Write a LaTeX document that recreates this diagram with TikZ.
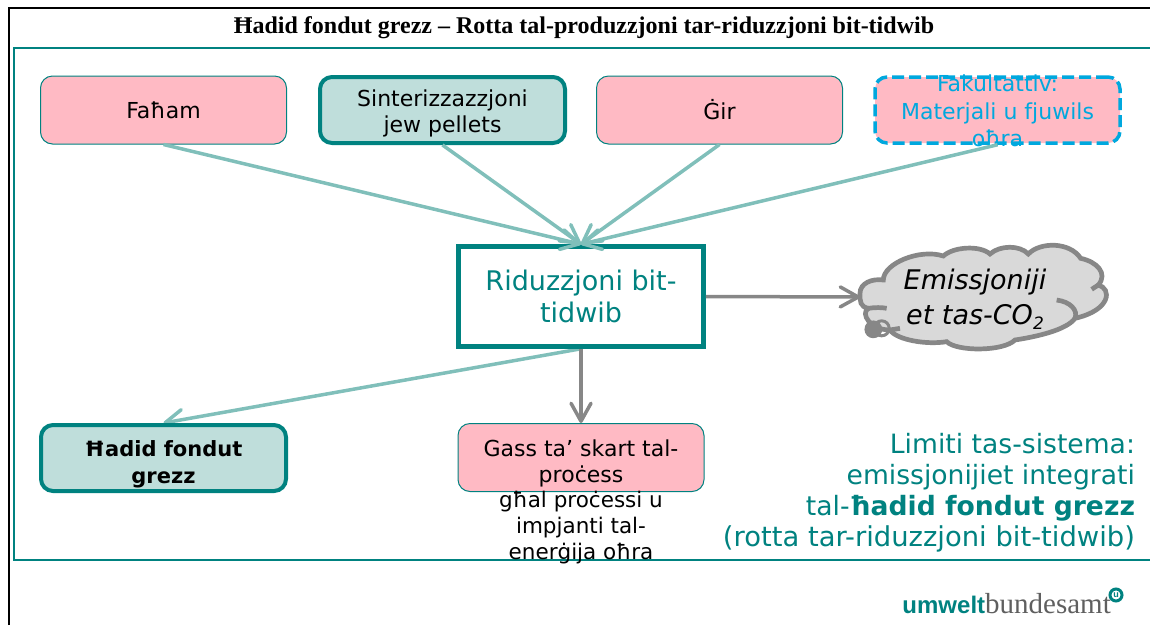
\documentclass[tikz,border=0pt]{standalone}
\usepackage{fontspec}
\setmainfont{DejaVu Sans}
\newfontfamily\titlefont{Liberation Serif}
\newfontfamily\logofont{Liberation Sans}
\newfontfamily\logoserif{Liberation Serif}
\usetikzlibrary{arrows.meta, backgrounds}

\definecolor{umweltteal}{rgb}{0,0.51,0.5}
\definecolor{lightteal}{rgb}{0.75,0.87,0.86}
\definecolor{arrowteal}{rgb}{0.5,0.75,0.73}
\definecolor{boxpink}{rgb}{1,0.73,0.77}
\definecolor{fakblue}{rgb}{0,0.66,0.87}
\definecolor{flowgray}{rgb}{0.53,0.53,0.53}
\definecolor{cloudgray}{rgb}{0.85,0.85,0.85}

\tikzset{
    inbox/.style={draw=umweltteal, line width=1pt, fill=boxpink, rounded corners=12pt, minimum width=246pt, minimum height=68pt, inner sep=0pt, align=center, font=\fontsize{22}{26}\selectfont},
    tealbox/.style={inbox, line width=4pt, fill=lightteal, minimum width=245pt, minimum height=66pt},
    barb/.style={-{Straight Barb[length=18pt, width=20pt, round]}},
    tealflow/.style={barb, draw=arrowteal, line width=3.5pt},
    grayflow/.style={barb, draw=flowgray, line width=3.5pt}
}

\begin{document}
\begin{tikzpicture}[x=1pt, y=-1pt]
    \useasboundingbox (0,0) rectangle (1150,625);

    \draw[black, line width=2pt] (9,625) -- (9,8) -- (1150,8);
    \draw[umweltteal, line width=2pt] (1150,48) -- (14,48) -- (14,560) -- (1150,560);
    \node[font=\titlefont\bfseries\fontsize{24}{28}\selectfont] (title) at (584,28) {Ħadid fondut grezz – Rotta tal-produzzjoni tar-riduzzjoni bit-tidwib};

    \node[inbox] (faham) at (163.5,110) {Faħam};
    \node[tealbox] (sinter) at (442.5,110) {\rule{0pt}{23pt}Sinterizzazzjoni\\jew pellets};
    \node[inbox] (gir) at (719.5,110) {Ġir};
    \node[inbox, draw=fakblue, line width=3.5pt, dash pattern=on 12pt off 5pt, minimum height=66pt, minimum width=245pt] (fak) at (997.5,110) {};
    \node[font=\fontsize{22}{27.5}\selectfont, text=fakblue, align=center] (faktext) at (997.5,111) {Fakultattiv:\\Materjali u fjuwils\\oħra};

    \node[draw=umweltteal, line width=4.5pt, minimum width=245pt, minimum height=100pt, inner sep=0pt, align=center, text=umweltteal, font=\fontsize{27}{32}\selectfont] (rid) at (581,296.5) {Riduzzjoni bit-\\tidwib};

    \begin{scope}[shift={(840,230)}, x=0.3333pt, y=-0.3333pt, flowgray, line width=4.7pt]
        \filldraw[fill=cloudgray] (60,190) .. controls (60,160) and (95,145) .. (130,150)
            .. controls (130,100) and (240,55) .. (310,78)
            .. controls (340,50) and (420,45) .. (450,72)
            .. controls (480,45) and (540,45) .. (565,72)
            .. controls (600,35) and (690,35) .. (722,85)
            .. controls (770,95) and (805,130) .. (775,165)
            .. controls (815,175) and (815,240) .. (705,265)
            .. controls (680,300) and (590,320) .. (525,330)
            .. controls (490,365) and (350,365) .. (320,335)
            .. controls (260,345) and (170,330) .. (150,300)
            .. controls (90,300) and (60,250) .. (85,235)
            .. controls (60,230) and (60,215) .. (60,190) -- cycle;
        \draw (650,210) .. controls (690,215) and (715,240) .. (705,265);
        \draw (755,178) -- (775,165);
        \draw (85,235) .. controls (105,232) and (125,232) .. (140,235);
        \draw (150,300) -- (180,295);
        \filldraw (100,298) circle (6.5pt);
        \draw[line width=3pt] (125,295) circle (7.5pt);
    \end{scope}
    \coordinate (emis) at (860,297);
    \node[font=\itshape\fontsize{27}{35}\selectfont, align=center] (emistext) at (975,299) {Emissjoniji\\et tas-CO\raisebox{-5pt}{\fontsize{17}{17}\selectfont 2}};

    \draw[tealflow] (faham.south) -- (rid.north);
    \draw[tealflow] (sinter.south) -- (rid.north);
    \draw[tealflow] (gir.south) -- (rid.north);
    \draw[tealflow] (fak.south) -- (rid.north);
    \draw[grayflow] (rid.east) -- (emis);

    \node[tealbox, font=\bfseries\fontsize{21}{27}\selectfont] (hadid) at (163.5,458) {\rule{0pt}{28pt}Ħadid fondut\\grezz};
    \node[inbox] (gass) at (581,457.5) {\rule{0pt}{29pt}Gass ta’ skart tal-\\proċess};
    \node[font=\fontsize{21.5}{26}\selectfont, align=center] (gasstext) at (581,528) {għal proċessi u\\impjanti tal-\\enerġija oħra};

    \begin{scope}[on background layer]
        \draw[tealflow] (rid.south) -- (hadid.north);
    \end{scope}
    \draw[grayflow] (rid.south) -- (gass.north);

    \node[anchor=east, align=right, text=umweltteal, font=\fontsize{26.6}{31}\selectfont] (limit) at (1138.5,493) {Limiti tas-sistema:\\emissjonijiet integrati\\tal-\textbf{ħadid fondut grezz}\\{\fontsize{27.4}{31}\selectfont (rotta tar-riduzzjoni bit-tidwib)}};

    \node[anchor=base east, inner sep=0pt] (logo) at (1111,613) {\textcolor{umweltteal}{\logofont\bfseries\fontsize{24}{27}\selectfont umwelt}\textcolor{flowgray!70!black}{\logoserif\fontsize{29}{27}\selectfont bundesamt}};
    \node[circle, draw=umweltteal, line width=3pt, fill=white, minimum size=12pt, inner sep=0pt, text=umweltteal, font=\logofont\bfseries\fontsize{9}{9}\selectfont] (logou) at (1116,595) {u};
\end{tikzpicture}
\end{document}
